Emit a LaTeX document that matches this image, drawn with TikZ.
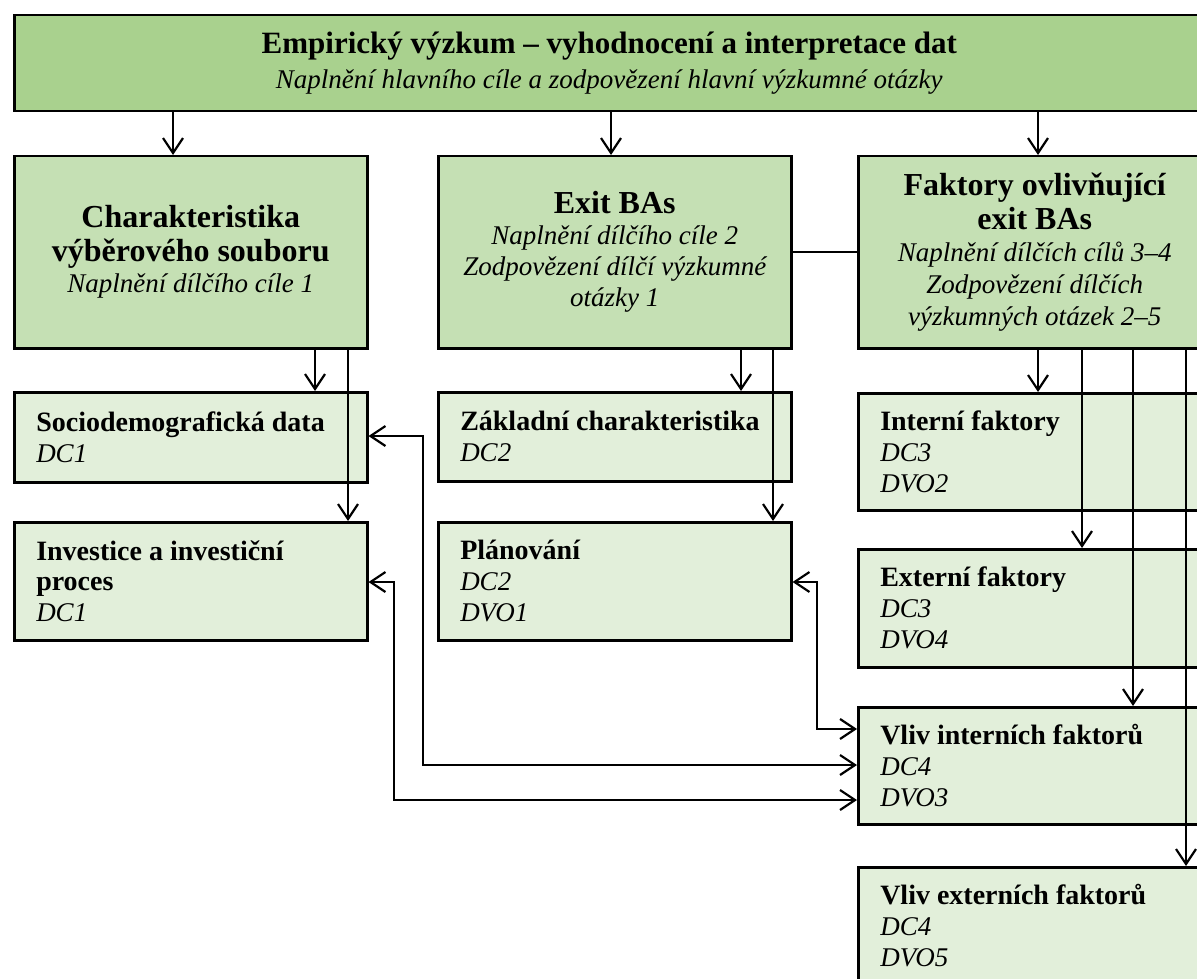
\documentclass[tikz,border=0pt]{standalone}
\usepackage{fontspec}
\setmainfont{Liberation Serif}
\usetikzlibrary{arrows.meta}
\definecolor{gA}{HTML}{A9D18E}
\definecolor{gB}{HTML}{C5E0B4}
\definecolor{gC}{HTML}{E2EFDA}
\newcommand{\Tsp}{\spaceskip=\fontdimen2\font\xspaceskip=\fontdimen2\font\relax}
\newcommand{\Ttitle}{\fontsize{31}{35}\selectfont\bfseries\Tsp}
\newcommand{\Tbig}{\fontsize{32}{34}\selectfont\bfseries\Tsp}
\newcommand{\Tsub}{\fontsize{27}{31}\selectfont\itshape\mdseries\Tsp}
\newcommand{\Tsubc}{\fontsize{27}{32}\selectfont\itshape\mdseries\Tsp}
\newcommand{\Ttop}{\fontsize{27}{35}\selectfont\itshape\mdseries\Tsp}
\newcommand{\Tlow}{\fontsize{28}{31}\selectfont\bfseries\Tsp}
\newcommand{\Tlowi}{\fontsize{27}{31}\selectfont\itshape\mdseries\Tsp}
\begin{document}
\begin{tikzpicture}[x=1pt,y=-1pt,
  box/.style={draw=black,line width=2.5pt,rectangle,anchor=north west,inner xsep=22pt,inner ysep=0pt},
  topbox/.style={box,fill=gA,align=center,minimum width=1190pt,text width=1146pt},
  midbox/.style={box,fill=gB,align=center,minimum width=353pt,text width=309pt,minimum height=192pt},
  lowbox/.style={box,fill=gC,align=left,minimum width=353pt,text width=309pt},
  conn/.style={line width=2pt},
  arr/.style={line width=2.2pt,-{Straight Barb[length=15pt,width=20pt]}},
  darr/.style={line width=2.2pt,{Straight Barb[length=15pt,width=20pt]}-{Straight Barb[length=15pt,width=20pt]}}]
\useasboundingbox (0,0) rectangle (1197,979);
\clip (0,0) rectangle (1197,979);

\node[topbox,minimum height=96pt] (top) at (13,14)
  {\Ttitle Empirický výzkum – vyhodnocení a interpretace dat\\\Ttop Naplnění hlavního cíle a zodpovězení hlavní výzkumné otázky\par};

\node[midbox] (A) at (13,155)
  {\Tbig Charakteristika\\výběrového souboru\\\Tsub Naplnění dílčího cíle 1\par};
\node[midbox] (B) at (437,155)
  {\Tbig Exit BAs\\\Tsub Naplnění dílčího cíle 2\\Zodpovězení dílčí výzkumné\\otázky 1\par};
\node[midbox] (C) at (857,155)
  {\Tbig Faktory ovlivňující\\exit BAs\\\Tsubc Naplnění dílčích cílů 3–4\\Zodpovězení dílčích\\výzkumných otázek 2–5\par};

\node[lowbox,minimum height=90pt] (socio) at (13,391)
  {\Tlow Sociodemografická data\\\Tlowi DC1\par};
\node[lowbox,minimum height=118pt] (inv) at (13,521)
  {\Tlow Investice a investiční\\proces\\\Tlowi DC1\par};
\node[lowbox,minimum height=89pt] (zakl) at (437,391)
  {\Tlow Základní charakteristika\\\Tlowi DC2\par};
\node[lowbox,minimum height=118pt] (plan) at (437,521)
  {\Tlow Plánování\\\Tlowi DC2\\DVO1\par};
\node[lowbox,minimum height=117pt] (intf) at (857,392)
  {\Tlow Interní faktory\\\Tlowi DC3\\DVO2\par};
\node[lowbox,minimum height=118pt] (extf) at (857,548)
  {\Tlow Externí faktory\\\Tlowi DC3\\DVO4\par};
\node[lowbox,minimum height=117pt] (vint) at (857,706)
  {\Tlow Vliv interních faktorů\\\Tlowi DC4\\DVO3\par};
\node[lowbox,minimum height=117pt] (vext) at (857,866)
  {\Tlow Vliv externích faktorů\\\Tlowi DC4\\DVO5\par};

\draw[arr] (top.south -| 173,0) -- (A.north -| 173,0);
\draw[arr] (top.south -| 611,0) -- (B.north -| 611,0);
\draw[arr] (top.south -| 1038,0) -- (C.north -| 1038,0);
\draw[conn] (B.east |- 0,252) -- (C.west |- 0,252);

\draw[arr] (A.south -| 315,0) -- (socio.north -| 315,0);
\draw[arr] (A.south -| 348,0) -- (inv.north -| 348,0);
\draw[arr] (B.south -| 741,0) -- (zakl.north -| 741,0);
\draw[arr] (B.south -| 773,0) -- (plan.north -| 773,0);
\draw[arr] (C.south -| 1038,0) -- (intf.north -| 1038,0);
\draw[arr] (C.south -| 1082,0) -- (extf.north -| 1082,0);
\draw[arr] (C.south -| 1133,0) -- (vint.north -| 1133,0);
\draw[arr] (C.south -| 1186,0) -- (vext.north -| 1186,0);

\draw[darr] (socio.east |- 0,436) -| (423,765) -- (vint.west |- 0,765);
\draw[darr] (inv.east |- 0,582) -| (394,800) -- (vint.west |- 0,800);
\draw[darr] (plan.east |- 0,582) -| (817,729) -- (vint.west |- 0,729);
\end{tikzpicture}
\end{document}
